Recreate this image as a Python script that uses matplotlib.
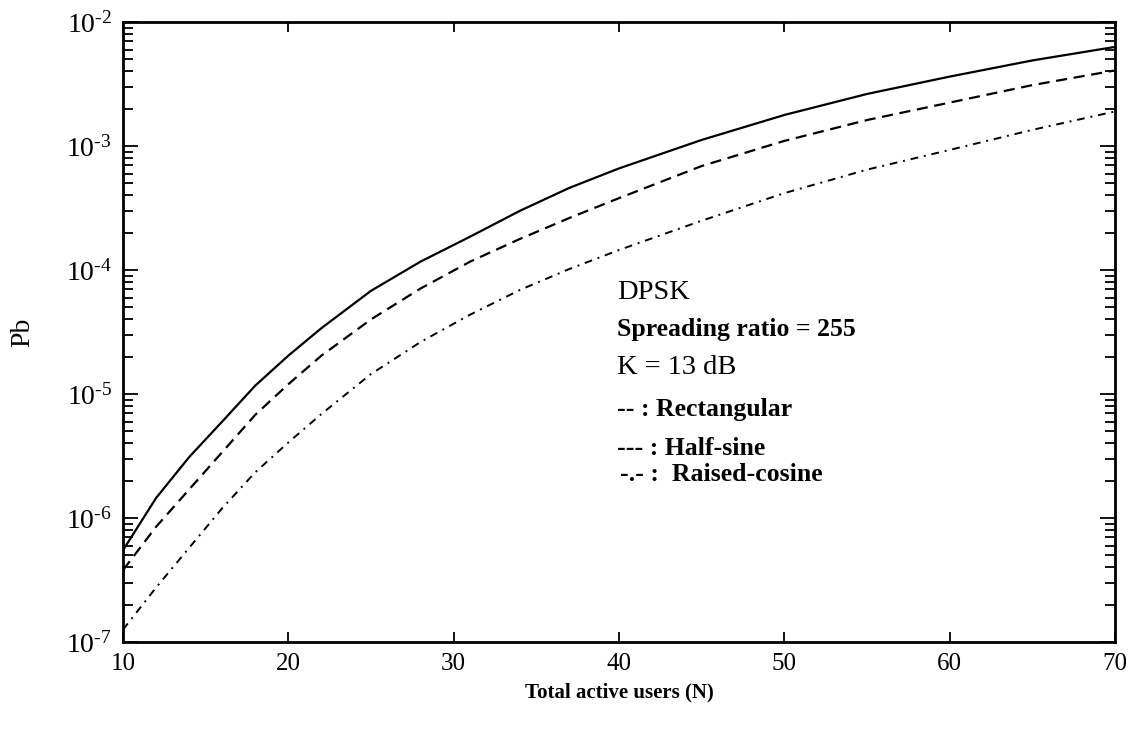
import math
import matplotlib
matplotlib.use("Agg")
import matplotlib.pyplot as plt
from matplotlib.ticker import FixedLocator, LogLocator, NullFormatter, FuncFormatter

plt.rcParams["font.family"] = ["Liberation Serif", "DejaVu Serif"]
plt.rcParams["mathtext.fontset"] = "custom"
plt.rcParams["mathtext.rm"] = "Liberation Serif"

# Number of active users
users = [10, 12, 14, 16, 18, 20, 22, 25, 28, 31, 34, 37, 40, 45, 50, 55, 60, 65, 70]

# Bit error probability for each chip pulse shape
pb_rectangular = [5.5e-7, 1.45e-6, 3.1e-6, 6.0e-6, 1.17e-5, 2.04e-5, 3.4e-5, 6.8e-5,
                  1.17e-4, 1.86e-4, 3.0e-4, 4.6e-4, 6.6e-4, 1.12e-3, 1.78e-3,
                  2.63e-3, 3.63e-3, 4.9e-3, 6.3e-3]
pb_half_sine = [3.8e-7, 8.5e-7, 1.7e-6, 3.4e-6, 6.8e-6, 1.2e-5, 2.04e-5, 4.0e-5,
                7.1e-5, 1.17e-4, 1.78e-4, 2.63e-4, 3.8e-4, 6.9e-4, 1.1e-3,
                1.62e-3, 2.24e-3, 3.1e-3, 4.07e-3]
pb_raised_cosine = [1.26e-7, 2.75e-7, 5.75e-7, 1.2e-6, 2.34e-6, 4.07e-6, 6.9e-6,
                    1.45e-5, 2.63e-5, 4.37e-5, 6.9e-5, 1.02e-4, 1.45e-4, 2.5e-4,
                    4.17e-4, 6.45e-4, 9.3e-4, 1.35e-3, 1.9e-3]

x_ticks = [10, 20, 30, 40, 50, 60, 70]
y_exponents = [-7, -6, -5, -4, -3, -2]

fig = plt.figure(figsize=(11.39, 7.29), dpi=100)
ax = fig.add_axes([0.108, 0.1193, 0.871, 0.8505])

ax.plot(users, pb_rectangular, color="black", lw=1.6, linestyle="-")
ax.plot(users, pb_half_sine, color="black", lw=1.6, linestyle=(0, (5, 3)))
ax.plot(users, pb_raised_cosine, color="black", lw=1.4, linestyle=(0, (4, 3, 1, 3)))

ax.set_yscale("log")
ax.set_xlim(10, 70)
ax.set_ylim(1e-7, 1e-2)

HYPHEN = "\u2010"


def decade_label(v, pos):
    # "10" followed by a raised exponent written with a plain hyphen
    e = round(math.log10(v))
    return "$\\mathregular{10^{" + HYPHEN + str(abs(e)) + "}}$"


ax.xaxis.set_major_locator(FixedLocator(x_ticks))
ax.yaxis.set_major_locator(FixedLocator([10.0 ** e for e in y_exponents]))
ax.yaxis.set_minor_locator(LogLocator(base=10, subs=range(2, 10)))
ax.yaxis.set_minor_formatter(NullFormatter())
ax.yaxis.set_major_formatter(FuncFormatter(decade_label))

ax.tick_params(axis="both", which="both", direction="in", top=True, right=True, width=1.3)
ax.tick_params(axis="y", which="major", length=11, pad=8, labelsize=20)
ax.tick_params(axis="y", which="minor", length=7)
ax.tick_params(axis="x", which="major", length=7, pad=8, labelsize=18)

for s in ax.spines.values():
    s.set_linewidth(2)

ax.set_xlabel("Total active users (N)", fontsize=15, fontweight="bold", labelpad=5)
ax.set_ylabel("Pb", fontsize=20, labelpad=22)

tx = 0.498
ax.text(tx, 0.563, "DPSK", transform=ax.transAxes, fontsize=20.5, va="center")
ax.text(tx, 0.504, "Spreading ratio = 255", transform=ax.transAxes, fontsize=18.5,
        fontweight="bold", va="center")
ax.text(tx, 0.443, "K = 13 dB", transform=ax.transAxes, fontsize=20.5, va="center")
ax.text(tx, 0.375, "-- : Rectangular", transform=ax.transAxes, fontsize=18.5,
        fontweight="bold", va="center")
ax.text(tx, 0.312, "--- : Half-sine", transform=ax.transAxes, fontsize=18.5,
        fontweight="bold", va="center")
ax.text(tx + 0.003, 0.271, "-.- :  Raised-cosine", transform=ax.transAxes, fontsize=18.5,
        fontweight="bold", va="center")

fig.savefig("out.png", dpi=100)
